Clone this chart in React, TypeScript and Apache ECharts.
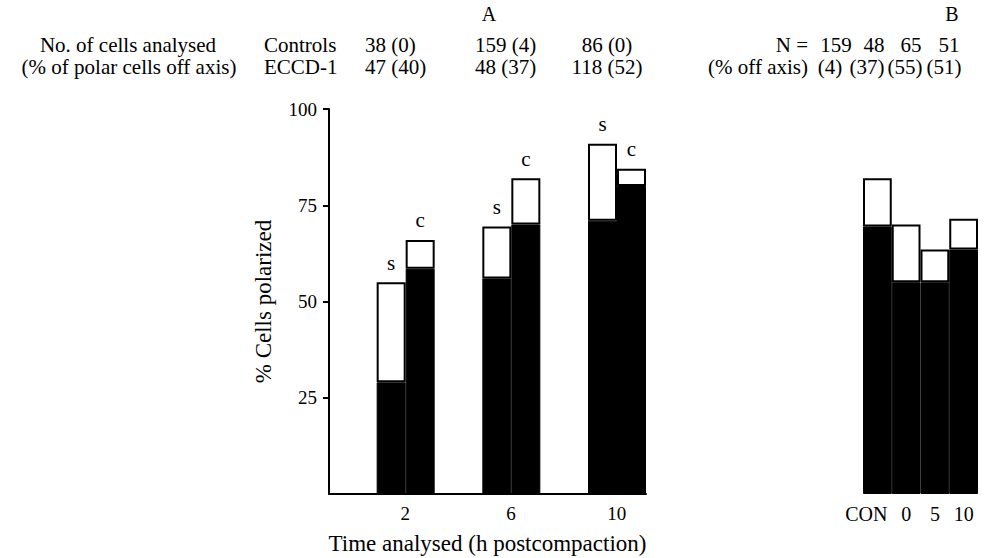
import React, { useEffect, useRef } from 'react';
import * as echarts from 'echarts';

// ---- Data ----
const timeCategories = ['2', '6', '10'];
const sTotal = [55, 69.5, 91];
const sBlack = [29, 56, 71];
const cTotal = [66, 82, 84.5];
const cBlack = [58.5, 70, 80];

const bCategories = ['CON', '0', '5', '10'];
const bTotal = [82, 70, 63.5, 71.5];
const bBlack = [69.5, 55, 55, 63.5];

const yMin = 0;
const yMax = 100;
const yInterval = 25;

const panelTitles = ['A', 'B'];
const headerLabelsA = ['No. of cells analysed', '(% of polar cells off axis)'];
const groupNames = ['Controls', 'ECCD-1'];
const controlsCounts = ['38 (0)', '159 (4)', '86 (0)'];
const eccdCounts = ['47 (40)', '48 (37)', '118 (52)'];
const headerLabelsB = ['N =', '(% off axis)'];
const bN = ['159', '48', '65', '51'];
const bOff = ['(4)', '(37)', '(55)', '(51)'];

const yName = '% Cells polarized';
const xNameA = 'Time analysed (h postcompaction)';

const FONT = "'Liberation Serif', 'Times New Roman', serif";
const FS_TICK = 19;
const FS_HEAD = 21;
const FS_NAME = 23;

export default function App() {
  const ref = useRef<HTMLDivElement>(null);
  useEffect(() => {
    if (!ref.current) return;
    const chart = echarts.init(ref.current, undefined, { renderer: 'svg' });

    const txt = (text: string, x: number, y: number, align: string = 'center', size = FS_HEAD) => ({
      type: 'text',
      x,
      y,
      style: {
        text,
        fill: '#000',
        font: `${size}px ${FONT}`,
        textAlign: align,
        textVerticalAlign: 'middle',
      },
    });

    const colA = [365, 475, 607];
    const colAAlign = ['left', 'left', 'center'];
    const colB = [836, 874, 911, 949];
    const colBOff = [830, 867, 905, 944];

    const graphics: any[] = [
      txt(panelTitles[0], 489, 14, 'center', 20),
      txt(panelTitles[1], 952, 14, 'center', 20),
      txt(headerLabelsA[0], 128, 45),
      txt(headerLabelsA[1], 129, 67),
      txt(groupNames[0], 264, 45, 'left'),
      txt(groupNames[1], 264, 67, 'left'),
      ...controlsCounts.map((t, i) => txt(t, colA[i], 45, colAAlign[i])),
      ...eccdCounts.map((t, i) => txt(t, colA[i], 67, colAAlign[i])),
      txt(headerLabelsB[0], 808, 45, 'right'),
      txt(headerLabelsB[1], 808, 67, 'right'),
      ...bN.map((t, i) => txt(t, colB[i], 45)),
      ...bOff.map((t, i) => txt(t, colBOff[i], 67)),
    ];

    const whiteStyle = { color: '#fff', borderColor: '#000', borderWidth: 2 };
    const blackStyle = { color: '#000', borderColor: '#000', borderWidth: 1 };
    const topLabel = (t: string) => ({
      show: true,
      position: 'top',
      distance: 9,
      formatter: t,
      color: '#000',
      fontFamily: FONT,
      fontSize: 21,
    });

    const option: any = {
      animation: false,
      backgroundColor: '#fff',
      grid: [
        { left: 329, top: 109, width: 317, height: 385, outerBoundsMode: 'none', containLabel: false },
        { left: 863, top: 109, width: 115, height: 385, outerBoundsMode: 'none', containLabel: false },
      ],
      xAxis: [
        {
          type: 'category',
          gridIndex: 0,
          data: timeCategories,
          axisLine: { show: true, lineStyle: { color: '#000', width: 2 } },
          axisTick: { show: false },
          axisLabel: {
            color: '#000',
            fontFamily: FONT,
            fontSize: FS_TICK,
            margin: 10,
            interval: 0,
            padding: [0, 0, 0, 47],
          },
          name: xNameA,
          nameLocation: 'middle',
          nameGap: 38,
          nameTextStyle: { color: '#000', fontFamily: FONT, fontSize: FS_NAME },
        },
        {
          type: 'category',
          gridIndex: 1,
          data: bCategories,
          axisLine: { show: false },
          axisTick: { show: false },
          axisLabel: {
            color: '#000',
            fontFamily: FONT,
            fontSize: 20,
            margin: 10,
            interval: 0,
            formatter: (v: string, i: number) => (i === 0 ? `{con|${v}}` : v),
            rich: { con: { fontFamily: FONT, fontSize: 20, color: '#000', padding: [0, 22, 0, 0] } },
          },
        },
      ],
      yAxis: [
        {
          type: 'value',
          gridIndex: 0,
          min: yMin,
          max: yMax,
          interval: yInterval,
          axisLine: { show: true, lineStyle: { color: '#000', width: 2 } },
          axisTick: { show: true, length: 6, lineStyle: { color: '#000', width: 2 } },
          axisLabel: { color: '#000', fontFamily: FONT, fontSize: FS_TICK, margin: 12, showMinLabel: false },
          splitLine: { show: false },
          name: yName,
          nameLocation: 'middle',
          nameGap: 54,
          nameRotate: 90,
          nameTextStyle: { color: '#000', fontFamily: FONT, fontSize: FS_NAME },
        },
        {
          type: 'value',
          gridIndex: 1,
          min: yMin,
          max: yMax,
          interval: yInterval,
          show: false,
          splitLine: { show: false },
        },
      ],
      graphic: graphics,
      series: [
        {
          name: 'spacer',
          type: 'bar',
          xAxisIndex: 0,
          yAxisIndex: 0,
          stack: 'sp',
          barWidth: 47.67,
          barGap: 0,
          barCategoryGap: 0,
          data: timeCategories.map(() => 0),
          itemStyle: { color: 'transparent' },
          silent: true,
        },
        {
          name: 's-black',
          type: 'bar',
          xAxisIndex: 0,
          yAxisIndex: 0,
          stack: 's',
          barWidth: 29,
          barGap: 0,
          barCategoryGap: 0,
          data: sBlack,
          itemStyle: blackStyle,
        },
        {
          name: 's-white',
          type: 'bar',
          xAxisIndex: 0,
          yAxisIndex: 0,
          stack: 's',
          barGap: 0,
          barCategoryGap: 0,
          data: sTotal.map((t, i) => t - sBlack[i]),
          itemStyle: whiteStyle,
          label: topLabel('s'),
        },
        {
          name: 'c-black',
          type: 'bar',
          xAxisIndex: 0,
          yAxisIndex: 0,
          stack: 'c',
          barWidth: 29,
          barGap: 0,
          barCategoryGap: 0,
          data: cBlack,
          itemStyle: blackStyle,
        },
        {
          name: 'c-white',
          type: 'bar',
          xAxisIndex: 0,
          yAxisIndex: 0,
          stack: 'c',
          barGap: 0,
          barCategoryGap: 0,
          data: cTotal.map((t, i) => t - cBlack[i]),
          itemStyle: whiteStyle,
          label: topLabel('c'),
        },
        {
          name: 'b-black',
          type: 'bar',
          xAxisIndex: 1,
          yAxisIndex: 1,
          stack: 'b',
          barCategoryGap: 0,
          data: bBlack,
          itemStyle: blackStyle,
        },
        {
          name: 'b-white',
          type: 'bar',
          xAxisIndex: 1,
          yAxisIndex: 1,
          stack: 'b',
          barCategoryGap: 0,
          data: bTotal.map((t, i) => t - bBlack[i]),
          itemStyle: whiteStyle,
        },
      ],
    };
    chart.setOption(option);
    return () => chart.dispose();
  }, []);

  return <div ref={ref} style={{ width: 1008, height: 558, position: 'absolute', left: 0, top: 0 }} />;
}
